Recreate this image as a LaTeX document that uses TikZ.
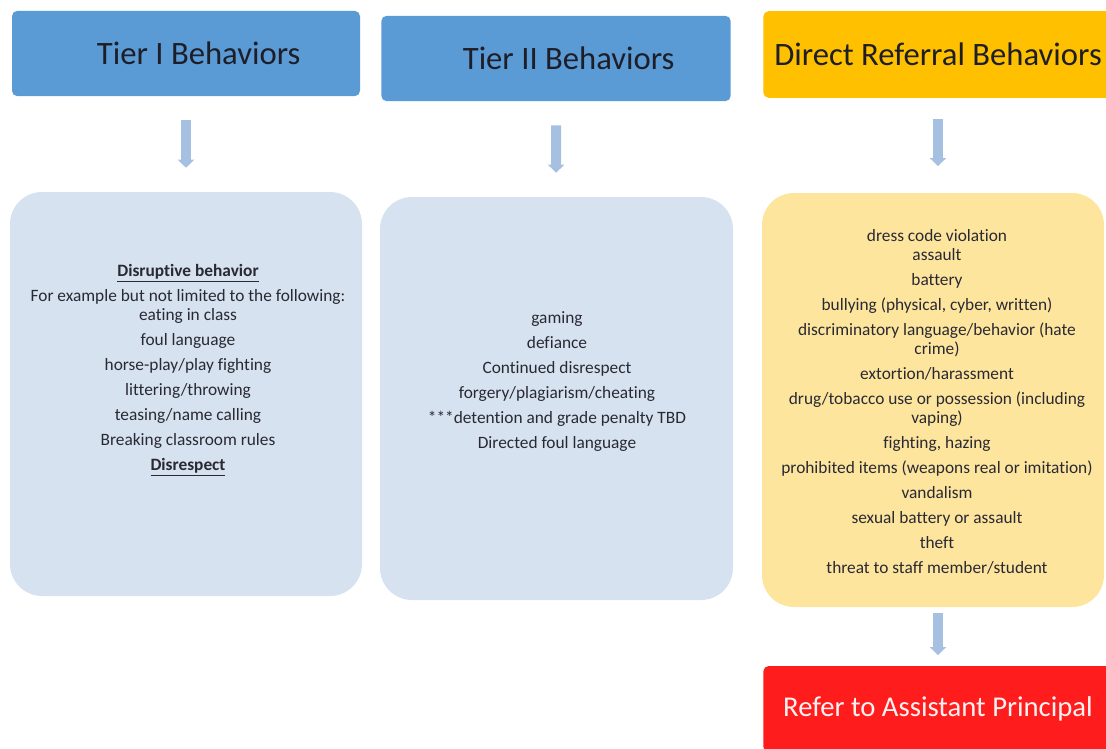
\documentclass[tikz,border=0pt]{standalone}
\usepackage{fontspec}
\setmainfont{Carlito}[Ligatures={NoCommon}]
\usepackage{tikz}
\usetikzlibrary{positioning,arrows.meta}

\definecolor{tierblue}{RGB}{91,155,213}
\definecolor{refgold}{RGB}{255,192,0}
\definecolor{listblue}{RGB}{214,226,240}
\definecolor{listgold}{RGB}{253,229,157}
\definecolor{refred}{RGB}{255,28,28}
\definecolor{flowblue}{RGB}{166,192,226}
\definecolor{inktext}{RGB}{30,30,40}

\begin{document}
\begin{tikzpicture}[
      x=0.75pt, y=-0.75pt,
      header/.style={
        rounded corners=4pt, inner sep=0pt, text=inktext,
        font=\fontsize{24.5}{28}\selectfont,
        minimum width=262pt, minimum height=64pt
      },
      tierhead/.style={header, fill=tierblue, execute at begin node=\hspace*{19pt}},
      listbox/.style={rounded corners=24pt, inner sep=0pt},
      listtext/.style={
        align=center, text=inktext!95,
        font=\fontsize{13}{14.25}\selectfont
      },
      flow/.style={
        draw=flowblue, line width=7.5pt,
        -{Triangle[width=12pt,length=6pt]}
      }
      ]

  \useasboundingbox (0,0) rectangle (1106,749);
  \clip (0,0) rectangle (1106,749);

  % headings
  \node[tierhead, minimum width=261pt] (tier1head) at (186,53.5) {Tier I Behaviors};
  \node[tierhead] (tier2head) at (556,58.5) {Tier II Behaviors};
  \node[header, fill=refgold, minimum height=65pt] (directhead) at (938,54.5) {Direct Referral Behaviors};

  % lists
  \node[listbox, fill=listblue, minimum width=264pt, minimum height=303pt] (tier1box) at (186,394) {};
  \node[listbox, fill=listblue, minimum width=264.75pt, minimum height=302.25pt] (tier2box) at (556.5,398.5) {};
  \node[listbox, fill=listgold, minimum width=256.5pt, minimum height=310.5pt] (directbox) at (933,400) {};

  \node[listtext] (tier1list) at (188,370) {%
    \underline{\textbf{Disruptive behavior}}\\[4.5pt]
    For example but not limited to the following:\\
    eating in class\\[4.5pt]
    foul language\\[4.5pt]
    horse-play/play fighting\\[4.5pt]
    littering/throwing\\[4.5pt]
    teasing/name calling\\[4.5pt]
    Breaking classroom rules\\[4.5pt]
    \underline{\textbf{Disrespect}}};
  \node[listtext] (tier2list) at (557,381.5) {%
    gaming\\[4.5pt]
    defiance\\[4.5pt]
    Continued disrespect\\[4.5pt]
    forgery/plagiarism/cheating\\[4.5pt]
    ***detention and grade penalty TBD\\[4.5pt]
    Directed foul language};
  \node[listtext] (directlist) at (937,401.5) {%
    dress code violation\\
    assault\\[4.5pt]
    battery\\[4.5pt]
    bullying (physical, cyber, written)\\[4.5pt]
    discriminatory language/behavior (hate\\
    crime)\\[4.5pt]
    extortion/harassment\\[4.5pt]
    drug/tobacco use or possession (including\\
    vaping)\\[4.5pt]
    fighting, hazing\\[4.5pt]
    prohibited items (weapons real or imitation)\\[4.5pt]
    vandalism\\[4.5pt]
    sexual battery or assault\\[4.5pt]
    theft\\[4.5pt]
    threat to staff member/student};

  \node[header, fill=refred, text=white!95!red, minimum height=64.5pt,
        font=\fontsize{21.5}{26}\selectfont] (refer) at (938,709) {Refer to Assistant Principal};

  % arrows
  \draw[flow, shorten <=18pt, shorten >=18pt] (tier1head) -- (tier1box);
  \draw[flow, shorten <=18pt, shorten >=18pt] (tier2head) -- (tier2box);
  \draw[flow, shorten <=16pt, shorten >=20pt] (directhead.south) -- (directhead.south |- directbox.north);
  \draw[flow, shorten <=4.5pt, shorten >=8pt] (directhead.south |- directbox.south) -- (refer);

\end{tikzpicture}
\end{document}
